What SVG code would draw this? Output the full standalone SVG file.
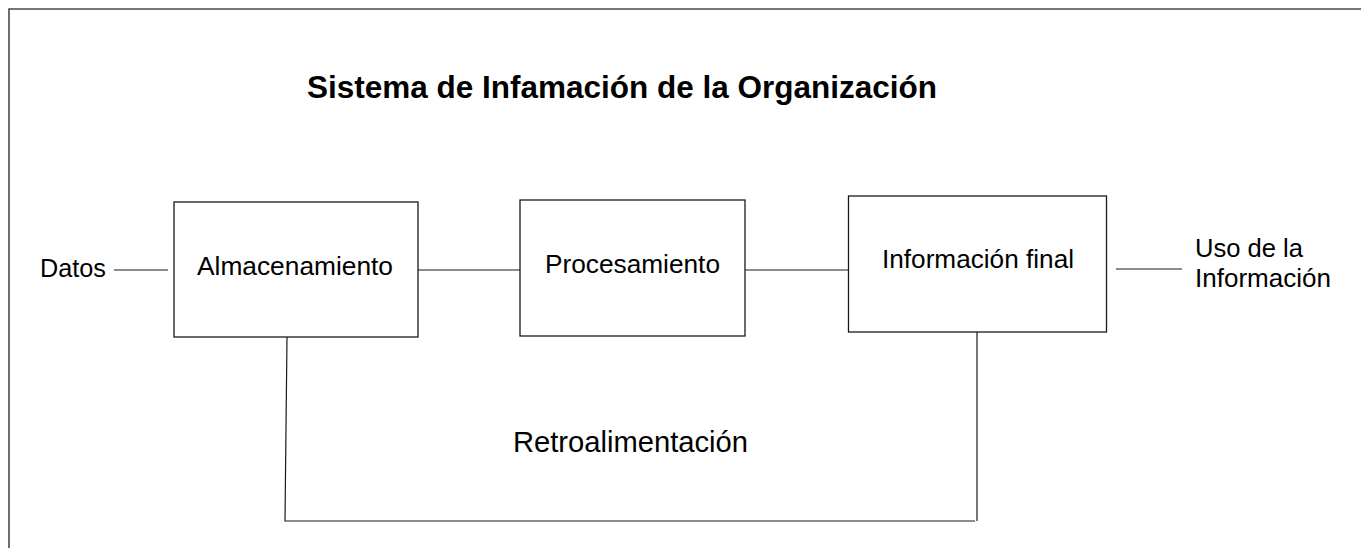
<svg xmlns="http://www.w3.org/2000/svg" width="1361" height="548" viewBox="0 0 1361 548">
<style>
.frame{fill:none;stroke:#4a4a4a;stroke-width:1.6}
.box{fill:#fff;stroke:#1a1a1a;stroke-width:1.3}
.conn{fill:none;stroke:#1a1a1a;stroke-width:1.2}
.t{font-family:"Liberation Sans",Arial,sans-serif;font-size:25.5px;fill:#000}
.title{font-family:"Liberation Sans",Arial,sans-serif;font-size:32px;font-weight:bold;fill:#000}
</style>
<rect width="1361" height="548" fill="#fff"/>
<path class="frame" d="M9,548 V9 H1361"/>
<text class="title" x="307" y="98" textLength="630" lengthAdjust="spacingAndGlyphs">Sistema de Infamación de la Organización</text>
<g id="connectors">
<line class="conn" x1="114" y1="270" x2="168" y2="270"/>
<line class="conn" x1="418" y1="270" x2="520" y2="270"/>
<line class="conn" x1="745" y1="270" x2="849" y2="270"/>
<line class="conn" x1="1116" y1="269" x2="1182" y2="269"/>
<polyline class="conn" points="287,337 285,521 975,521"/>
<line class="conn" x1="977" y1="327" x2="977" y2="521"/>
</g>
<g id="datos"><text class="t" x="40" y="277" textLength="66" lengthAdjust="spacingAndGlyphs">Datos</text></g>
<g id="almacenamiento">
<rect class="box" x="174" y="202" width="244" height="135"/>
<text class="t" x="197" y="275" textLength="196" lengthAdjust="spacingAndGlyphs">Almacenamiento</text>
</g>
<g id="procesamiento">
<rect class="box" x="520" y="200" width="225" height="136"/>
<text class="t" x="545" y="273" textLength="175" lengthAdjust="spacingAndGlyphs">Procesamiento</text>
</g>
<g id="informacion-final">
<rect class="box" x="848.5" y="196" width="258" height="136"/>
<text class="t" x="882" y="268" textLength="192" lengthAdjust="spacingAndGlyphs">Información final</text>
</g>
<g id="uso">
<text class="t" x="1195" y="257" textLength="108" lengthAdjust="spacingAndGlyphs">Uso de la</text>
<text class="t" x="1195" y="287" textLength="136" lengthAdjust="spacingAndGlyphs">Información</text>
</g>
<g id="retroalimentacion">
<text class="t" style="font-size:29px" x="513" y="452" textLength="235" lengthAdjust="spacingAndGlyphs">Retroalimentación</text>
</g>
</svg>
